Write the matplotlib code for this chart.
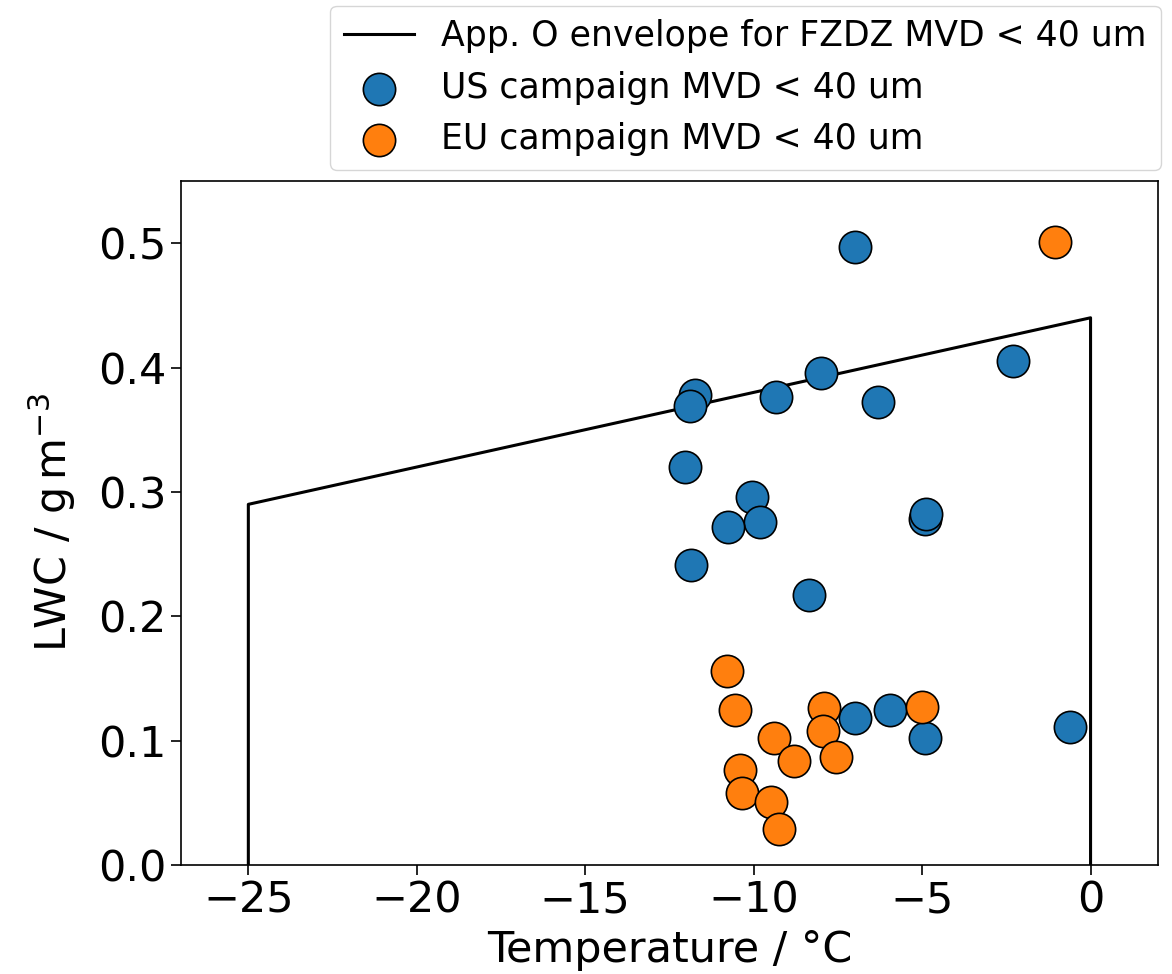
import matplotlib
matplotlib.use("Agg")
import matplotlib.pyplot as plt

# App. O envelope for FZDZ, MVD < 40 um
env_temp = [-25, -25, 0, 0]
env_lwc = [0.0, 0.29, 0.44, 0.0]

# US campaign points
us_temp = [-7.0, -2.3, -8.0, -6.3, -9.35, -11.75, -11.9, -12.05, -10.05, -9.8,
           -10.75, -11.85, -8.35, -4.9, -4.87, -7.0, -5.95, -4.9, -0.6]
us_lwc = [0.497, 0.405, 0.396, 0.372, 0.376, 0.378, 0.369, 0.320, 0.296, 0.276,
          0.272, 0.241, 0.217, 0.278, 0.282, 0.118, 0.125, 0.102, 0.111]

# EU campaign points
eu_temp = [-1.05, -10.8, -10.55, -10.4, -10.35, -9.4, -9.5, -9.25, -8.8,
           -7.9, -7.95, -7.55, -5.0]
eu_lwc = [0.501, 0.156, 0.125, 0.076, 0.058, 0.102, 0.051, 0.029, 0.084,
          0.126, 0.108, 0.087, 0.127]

fig = plt.figure(figsize=(11.72, 9.74), dpi=100)
ax = fig.add_axes([0.1544, 0.1119, 0.8336, 0.7023])

ax.plot(env_temp, env_lwc, color="black", lw=2.2,
        label="App. O envelope for FZDZ MVD < 40 um")
ax.scatter(us_temp, us_lwc, s=540, color="#1f77b4", edgecolor="black",
           linewidth=1.2, zorder=3, label="US campaign MVD < 40 um")
ax.scatter(eu_temp, eu_lwc, s=540, color="#ff7f0e", edgecolor="black",
           linewidth=1.2, zorder=3, label="EU campaign MVD < 40 um")

ax.set_xlim(-27, 2)
ax.set_ylim(0, 0.55)
ax.set_xticks([-25, -20, -15, -10, -5, 0])
ax.set_yticks([0.0, 0.1, 0.2, 0.3, 0.4, 0.5])
ax.tick_params(labelsize=31, width=1.2, length=7)
for sp in ax.spines.values():
    sp.set_linewidth(1.2)

ax.set_xlabel("Temperature / °C", fontsize=31, labelpad=5)
ax.set_ylabel(r"LWC / $\mathrm{g\,m^{-3}}$", fontsize=31, labelpad=14)

ax.legend(loc="lower right", bbox_to_anchor=(1.003, 1.016), fontsize=25,
          borderaxespad=0)

fig.savefig("out.png", dpi=100)
